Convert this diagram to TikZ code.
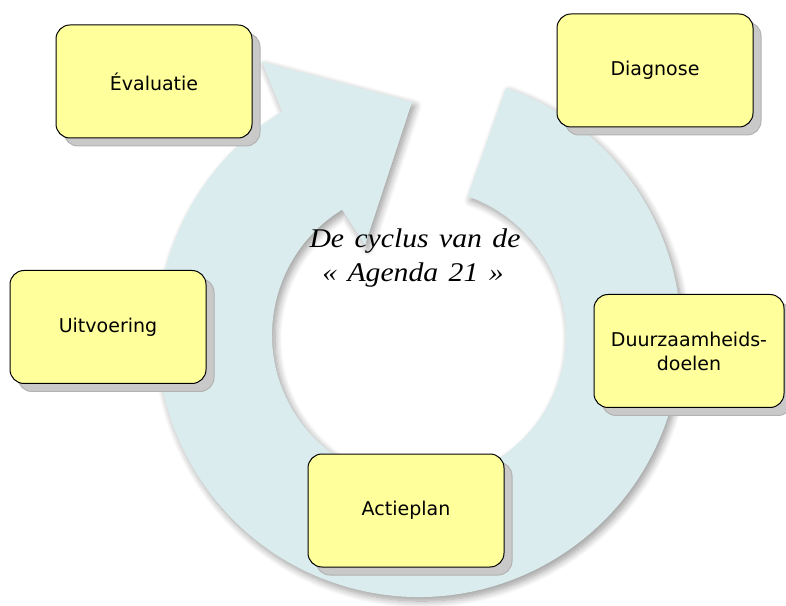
\documentclass[tikz,border=0pt]{standalone}
\usepackage{fontspec}
\usetikzlibrary{calc,shadows,shadows.blur}
\newfontfamily\boxfont{DejaVu Sans}
\newfontfamily\centerfont{Liberation Serif}[WordSpace=1.4]
\definecolor{ringcol}{RGB}{218,236,237}
\definecolor{boxyellow}{RGB}{255,255,155}
\tikzset{
  agbox/.style={draw=black, line width=1pt, fill=boxyellow, rounded corners=14pt,
    minimum width=196pt, minimum height=113pt, inner sep=0pt, align=center,
    font=\boxfont\fontsize{19}{24}\selectfont,
    drop shadow={shadow xshift=8pt, shadow yshift=-8pt, fill=gray!42, draw=gray!60, opacity=1}},
  ringstyle/.style={fill=ringcol, blur shadow={shadow xshift=3pt, shadow yshift=-4pt,
    shadow blur steps=10, shadow blur radius=7pt, shadow opacity=40}},
  centertext/.style={anchor=base, inner sep=0pt, font=\centerfont\itshape\fontsize{27}{34}\selectfont}
}
\begin{document}
\begin{tikzpicture}[x=1pt,y=1pt]
\useasboundingbox (0,0) rectangle (786,605);
\coordinate (C) at (419,270);
\coordinate (outerbarb) at (262,543);
\coordinate (tip) at (412,503);
\coordinate (innerbarb) at (365,360);
% circular arrow
\fill[ringstyle] ($(C)+(70.6:262)$) arc[start angle=70.6, end angle=-238.5, radius=262]
  -- (outerbarb) -- (tip) -- (innerbarb) -- ($(C)+(121.5:147)$)
  arc[start angle=-238.5, end angle=70.6, radius=147] -- cycle;
% boxes
\node[agbox] (eval) at (154,523.5) {Évaluatie};
\node[agbox] (diag) at (655,534.5) {Diagnose};
\node[agbox] (uitv) at (108,278) {Uitvoering};
\node[agbox, minimum width=190pt] (duur) at (689,254) {Duurzaamheids-\\doelen};
\node[agbox] (actie) at (406,94.5) {Actieplan};
% centre text
\node[centertext] (t1) at (415,357) {\scalebox{1.1}[1]{De cyclus van de}};
\node[centertext] (t2) at (413,323) {\scalebox{1.1}[1]{« Agenda 21 »}};
\end{tikzpicture}
\end{document}
